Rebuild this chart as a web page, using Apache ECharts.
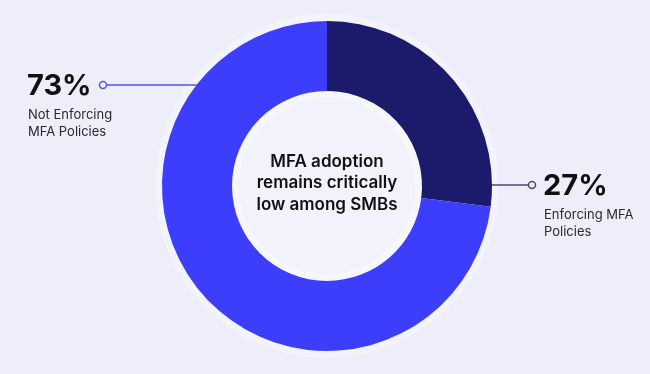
<!DOCTYPE html>
<html>
<head>
<meta charset="utf-8">
<script src="https://cdn.jsdelivr.net/npm/echarts@6/dist/echarts.min.js"></script>
<style>
  html, body { margin: 0; padding: 0; background: #eeeefa; }
  #main { width: 650px; height: 374px; }
</style>
</head>
<body>
<div id="main"></div>
<script>
// slices, clockwise from 12 o'clock
const names = ['Enforcing MFA Policies', 'Not Enforcing MFA Policies'];
const values = [27, 73];
const colors = ['#1b1a6b', '#3d3dfc'];
const labelLines = [['Enforcing MFA', 'Policies'], ['Not Enforcing', 'MFA Policies']];
const centerLines = ['MFA adoption', 'remains critically', 'low among SMBs'];

const cx = 327, cy = 186, rOut = 165, rIn = 95;
const font = 'Inter, "Noto Sans", sans-serif';

// where a horizontal leader line at height y meets the outer edge
const edgeX = (y, side) => cx + side * Math.sqrt(rOut * rOut - (y - cy) * (y - cy));

const chart = echarts.init(document.getElementById('main'));

const leader = (y, xMarker, side, color) => [
    {
        type: 'line',
        shape: { x1: xMarker + side * 4, y1: y, x2: edgeX(y, side), y2: y },
        style: { stroke: color, lineWidth: 1.5 },
        z: 1
    },
    {
        type: 'circle',
        shape: { cx: xMarker, cy: y, r: 3.5 },
        style: { fill: '#eeeefa', stroke: color, lineWidth: 1.5 },
        z: 1
    }
];

const labelBlock = (x, y, i) => [
    {
        type: 'text',
        style: { x: x, y: y, text: values[i] + '%', font: 'bold 29px ' + font, fill: '#111111', textVerticalAlign: 'top' }
    },
    {
        type: 'text',
        style: {
            x: x + 1, y: y + 35, text: labelLines[i].join('\n'),
            font: '13px ' + font, lineHeight: 17, fill: '#2a2a2a', textVerticalAlign: 'top'
        }
    }
];

const option = {
    backgroundColor: '#eeeefa',
    animation: false,
    series: [
        {
            // soft halo round the ring
            type: 'pie',
            silent: true,
            center: [cx, cy],
            radius: [rOut, rOut + 7],
            label: { show: false },
            data: [{ value: 1, itemStyle: { color: 'rgba(255,255,255,0.3)' } }],
            z: 0
        },
        {
            // light inner disc
            type: 'pie',
            silent: true,
            center: [cx, cy],
            radius: [0, rIn],
            label: { show: false },
            data: [{ value: 1, itemStyle: { color: '#f2f2fd' } }],
            z: 0
        },
        {
            type: 'pie',
            silent: true,
            center: [cx, cy],
            radius: [rIn - 7, rIn],
            label: { show: false },
            data: [{ value: 1, itemStyle: { color: 'rgba(255,255,255,0.3)' } }],
            z: 0
        },
        {
            type: 'pie',
            center: [cx, cy],
            radius: [rIn, rOut],
            startAngle: 90,
            clockwise: true,
            label: { show: false },
            labelLine: { show: false },
            emphasis: { disabled: true },
            data: names.map((n, i) => ({ name: n, value: values[i], itemStyle: { color: colors[i] } })),
            z: 2
        }
    ],
    graphic: [
        ...leader(85, 103, -1, '#5656e6'),
        ...leader(185, 532, 1, '#4a4a78'),
        ...labelBlock(27, 72, 1),
        ...labelBlock(543, 172, 0),
        {
            type: 'text',
            style: {
                x: cx, y: cy - 3, text: centerLines.join('\n'),
                font: '600 17px ' + font, lineHeight: 21.5, fill: '#111111',
                textAlign: 'center', textVerticalAlign: 'middle'
            },
            z: 5
        }
    ]
};

chart.setOption(option);
</script>
</body>
</html>
